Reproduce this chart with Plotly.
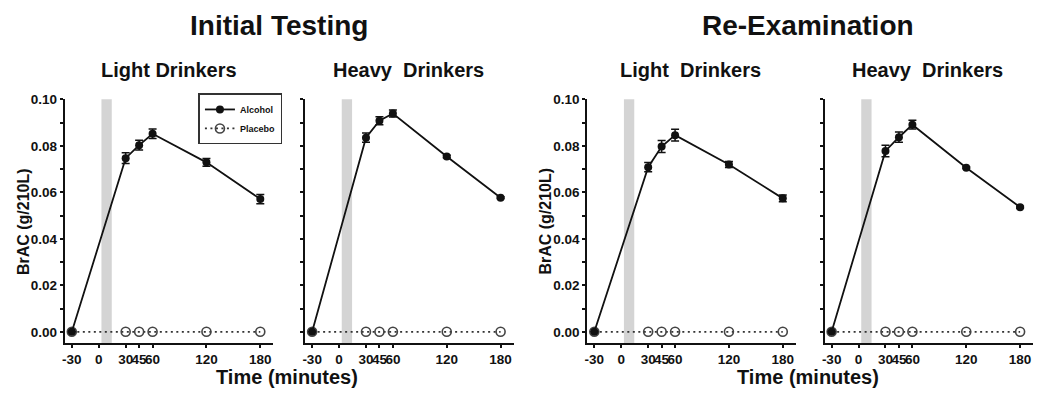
import plotly.graph_objects as go

# ---- data ----
times = [-30, 30, 45, 60, 120, 180]
xtick_vals = [-30, 0, 30, 45, 60, 120, 180]
xtick_text = ["-30", "0", "30", "45", "60", "120", "180"]
ytick_vals = [0.00, 0.01, 0.02, 0.03, 0.04, 0.05, 0.06, 0.07, 0.08, 0.09, 0.10]
ytick_text = ["0.00", "", "0.02", "", "0.04", "", "0.06", "", "0.08", "", "0.10"]

light_initial = [0.0, 0.0747, 0.0803, 0.0852, 0.0729, 0.0571]
light_initial_err = [0.0, 0.0023, 0.0021, 0.0020, 0.0017, 0.0020]
heavy_initial = [0.0, 0.0835, 0.0908, 0.0939, 0.0754, 0.0577]
heavy_initial_err = [0.0, 0.0020, 0.0017, 0.0015, 0.0005, 0.0004]
light_reexam = [0.0, 0.0708, 0.0797, 0.0846, 0.0720, 0.0574]
light_reexam_err = [0.0, 0.0020, 0.0026, 0.0025, 0.0013, 0.0015]
heavy_reexam = [0.0, 0.0778, 0.0837, 0.0891, 0.0706, 0.0536]
heavy_reexam_err = [0.0, 0.0025, 0.0022, 0.0019, 0.0004, 0.0004]
placebo = [0.0, 0.0, 0.0, 0.0, 0.0, 0.0]

panel_titles = ["Light Drinkers", "Heavy  Drinkers", "Light  Drinkers", "Heavy  Drinkers"]
group_titles = ["Initial Testing", "Re-Examination"]
alcohol_series = [light_initial, heavy_initial, light_reexam, heavy_reexam]
alcohol_errors = [light_initial_err, heavy_initial_err, light_reexam_err, heavy_reexam_err]
drink_window = (3, 14.5)

# ---- layout geometry ----
W, H = 1042, 397
FONT = "Liberation Sans, Arial, sans-serif"
px_domains = [(62, 271), (303, 512), (586, 795), (824, 1033)]
y_dom = [1 - 342 / H, 1 - 94 / H]
x_range = [-37.8, 194.4]
y_range = [-0.0048, 0.1]

fig = go.Figure()

for i in range(4):
    sfx = "" if i == 0 else str(i + 1)
    xa, ya = "x" + sfx, "y" + sfx
    fig.add_trace(go.Scatter(
        x=times, y=placebo, xaxis=xa, yaxis=ya, name="Placebo",
        mode="lines+markers", legendrank=2, showlegend=(i == 0),
        line=dict(color="#333333", width=1.8, dash="2px,3.5px"),
        marker=dict(symbol="circle-open", size=9, color="#444444", line=dict(width=1.6)),
        cliponaxis=False,
    ))
    fig.add_trace(go.Scatter(
        x=times, y=alcohol_series[i], xaxis=xa, yaxis=ya, name="Alcohol",
        mode="lines+markers", legendrank=1, showlegend=(i == 0),
        line=dict(color="#111111", width=1.8),
        marker=dict(symbol="circle", size=8, color="#111111"),
        error_y=dict(type="data", array=alcohol_errors[i], visible=True,
                     color="#111111", thickness=1.5, width=4),
        cliponaxis=False,
    ))
    # drinking period band
    fig.add_shape(type="rect", xref=xa, yref=ya + " domain",
                  x0=drink_window[0], x1=drink_window[1], y0=0, y1=1,
                  fillcolor="#d4d4d4", line=dict(width=0), layer="below")

    dom = [px_domains[i][0] / W, px_domains[i][1] / W]
    axis_common = dict(showline=True, linecolor="#111111", linewidth=2,
                       ticks="outside", ticklen=3, tickwidth=1.5, tickcolor="#111111",
                       showgrid=False, zeroline=False, fixedrange=True)
    fig.update_layout(**{
        "xaxis" + sfx: dict(domain=dom, range=x_range, anchor=ya,
                            tickmode="array", tickvals=xtick_vals, ticktext=xtick_text,
                            tickangle=0,
                            tickfont=dict(size=13.5, family=FONT, color="#111111", weight="bold"),
                            **axis_common),
        "yaxis" + sfx: dict(domain=y_dom, range=y_range, anchor=xa,
                            tickmode="array", tickvals=ytick_vals, ticktext=ytick_text,
                            showticklabels=(i % 2 == 0),
                            tickfont=dict(size=13.5, family=FONT, color="#111111", weight="bold"),
                            **axis_common),
    })

annotations = []
def ann(text, x, y, size, angle=0):
    annotations.append(dict(text=text, x=x / W, y=1 - y / H, xref="paper", yref="paper",
                            xanchor="center", yanchor="middle", showarrow=False, textangle=angle,
                            font=dict(size=size, family=FONT, color="#111111", weight="bold")))

ann(group_titles[0], 277, 19, 28)
ann(group_titles[1], 807, 19, 28)
for t, cx in zip(panel_titles, [166, 407, 689, 927]):
    ann(t, cx, 64, 20)
ann("Time (minutes)", 285, 377, 20)
ann("Time (minutes)", 807, 377, 20)
ann("BrAC (g/210L)", 20, 218, 16, -90)
ann("BrAC (g/210L)", 544, 218, 16, -90)

fig.update_layout(
    width=W, height=H, autosize=False,
    margin=dict(l=0, r=0, t=0, b=0),
    paper_bgcolor="white", plot_bgcolor="white",
    font=dict(family=FONT, color="#111111", weight="bold"),
    annotations=annotations,
    legend=dict(x=196 / W, y=1 - 88 / H, xanchor="left", yanchor="top",
                bgcolor="white", bordercolor="#333333", borderwidth=1.5,
                font=dict(size=9, family=FONT, color="#111111", weight="bold"),
                itemwidth=30, tracegroupgap=0, traceorder="normal"),
)

fig.write_html("out.html", config={"displayModeBar": False},
               post_script="document.body.style.margin='0';document.body.style.overflow='hidden';")
